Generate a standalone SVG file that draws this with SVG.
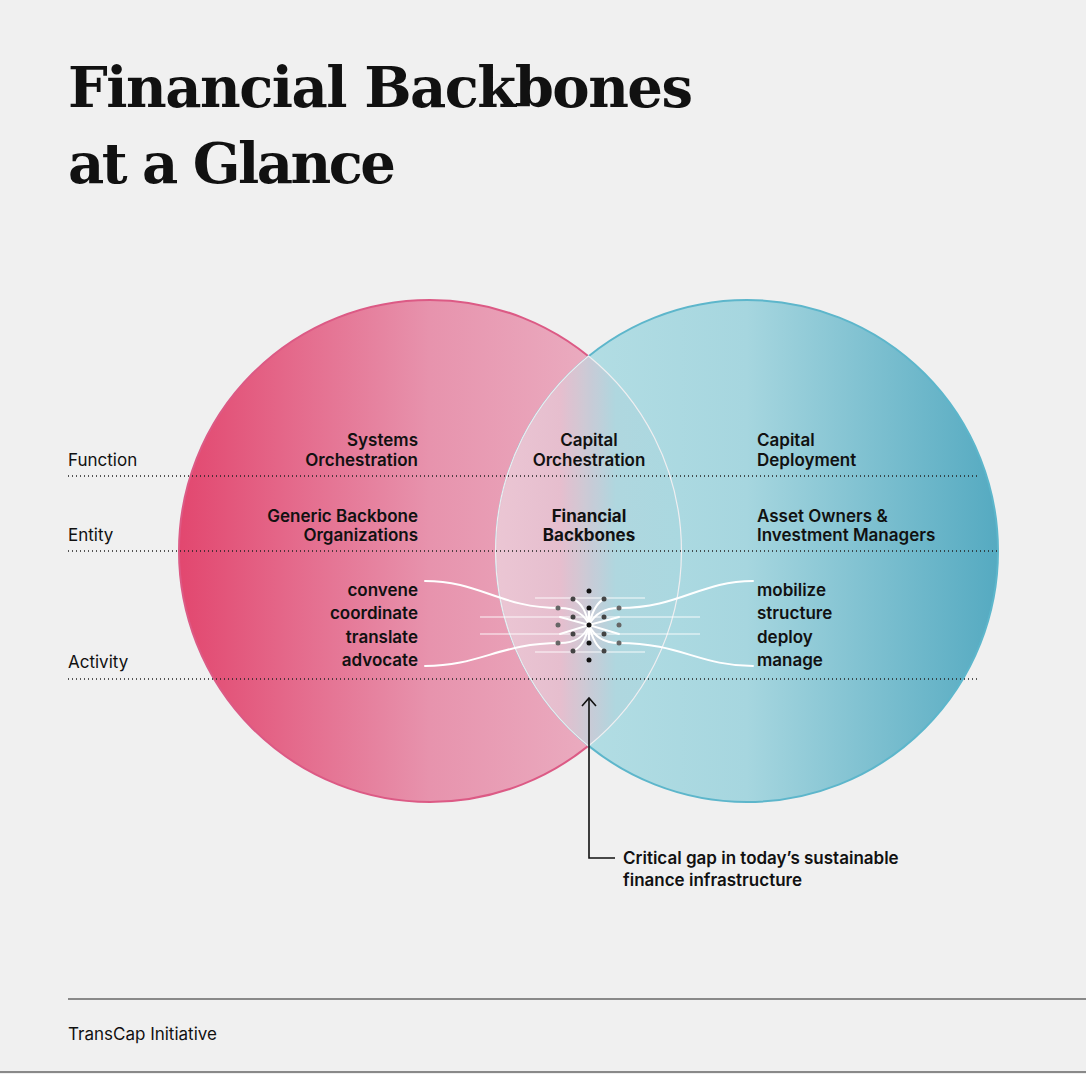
<svg xmlns="http://www.w3.org/2000/svg" width="1086" height="1074" viewBox="0 0 1086 1074">
<defs>
<linearGradient id="gl" x1="0" x2="1" y1="0" y2="0"><stop offset="0" stop-color="#e2476f"/><stop offset="0.5" stop-color="#e793ad"/><stop offset="1" stop-color="#ecb9ca"/></linearGradient>
<linearGradient id="gr" x1="0" x2="1" y1="0" y2="0"><stop offset="0" stop-color="#b9e1e6"/><stop offset="0.5" stop-color="#a6d6df"/><stop offset="1" stop-color="#55aac1"/></linearGradient>
<linearGradient id="gm" x1="0" x2="1" y1="0" y2="0"><stop offset="0" stop-color="#eec5d3"/><stop offset="0.35" stop-color="#e9bdcd"/><stop offset="0.65" stop-color="#afd7df"/><stop offset="1" stop-color="#aad8e0"/></linearGradient>
</defs>
<style>
.t{font-family:Inter,"Liberation Sans",sans-serif;font-size:17px;font-weight:600;fill:#111}
.b{font-weight:700}
.lab{font-family:Inter,"Liberation Sans",sans-serif;font-size:17px;fill:#111}
.dot{stroke:#222;stroke-width:1.3;stroke-dasharray:1 3;fill:none}
.w{fill:none;stroke:#fff;stroke-width:2;stroke-linecap:round}
.wf{fill:none;stroke:#fff;stroke-width:2;opacity:0.45}
</style>
<rect width="1086" height="1074" fill="#f0f0f0"/>
<g id="title"><text font-family="DejaVu Serif,'Liberation Serif',serif" font-weight="700" font-size="56" fill="#111"><tspan x="68" y="107" textLength="625">Financial Backbones</tspan><tspan x="68" y="183" textLength="328">at a Glance</tspan></text></g>
<g id="circle-left"><circle cx="430" cy="551" r="251" fill="url(#gl)" stroke="#dc5a85" stroke-width="2"/></g>
<g id="circle-right"><circle cx="747" cy="551" r="251" fill="url(#gr)" stroke="#5db6cb" stroke-width="2"/></g>
<g id="lens"><path d="M588.5,356 A251,251 0 0 1 588.5,746 A251,251 0 0 1 588.5,356 Z" fill="url(#gm)" stroke="#f4f0f2" stroke-width="1.2" opacity="0.95"/></g>
<g id="rows">
<line class="dot" x1="68" y1="476" x2="980" y2="476"/>
<line class="dot" x1="68" y1="551" x2="997" y2="551"/>
<line class="dot" x1="68" y1="679" x2="980" y2="679"/>
<text class="lab" x="68" y="466">Function</text>
<text class="lab" x="68" y="541">Entity</text>
<text class="lab" x="68" y="668">Activity</text>
</g>
<g id="connectors">
<path class="w" d="M425,581 C480,581 500,608 560,608 C575,608 585,615 589,625"/>
<path class="w" d="M425,666 C480,666 500,643 560,643 C575,643 585,636 589,625"/>
<path class="w" d="M753,581 C700,581 680,608 619,608 C604,608 594,615 589,625"/>
<path class="w" d="M753,666 C700,666 680,643 619,643 C604,643 594,636 589,625"/>
<path class="w" d="M560,617 L589,625 L619,617"/>
<path class="w" d="M560,634 L589,625 L619,634"/>
<path class="wf" d="M480,617 L700,617 M480,634 L700,634 M535,598 L645,598 M535,652 L645,652"/>
<path class="w" d="M573,599 C582,603 586,612 589,625 C592,612 596,603 604,599"/>
<path class="w" d="M573,651 C582,647 586,638 589,625 C592,638 596,647 604,651"/>
<path class="w" d="M589,608 L589,643"/>
<path d="M589,698 L589,858 L615,858" fill="none" stroke="#111" stroke-width="1.6"/>
<path d="M582,706 L589,698 L596,706" fill="none" stroke="#111" stroke-width="1.6"/>
</g>
<g id="dots" fill="#111">
<circle cx="589" cy="591" r="2.5"/><circle cx="589" cy="608" r="2.5"/><circle cx="589" cy="625" r="2.5"/><circle cx="589" cy="643" r="2.5"/><circle cx="589" cy="660" r="2.5"/>
<g fill="#444"><circle cx="573" cy="599" r="2.5"/><circle cx="573" cy="617" r="2.5"/><circle cx="573" cy="634" r="2.5"/><circle cx="573" cy="651" r="2.5"/>
<circle cx="604" cy="599" r="2.5"/><circle cx="604" cy="617" r="2.5"/><circle cx="604" cy="634" r="2.5"/><circle cx="604" cy="651" r="2.5"/></g>
<g fill="#666"><circle cx="558" cy="608" r="2.5"/><circle cx="558" cy="625" r="2.5"/><circle cx="558" cy="643" r="2.5"/><circle cx="619" cy="608" r="2.5"/><circle cx="619" cy="625" r="2.5"/><circle cx="619" cy="643" r="2.5"/></g>
</g>
<g id="left-text" class="t" text-anchor="end">
<text x="418" y="446">Systems</text><text x="418" y="466">Orchestration</text>
<text x="418" y="522">Generic Backbone</text><text x="418" y="541">Organizations</text>
<text x="418" y="596">convene</text><text x="418" y="619">coordinate</text><text x="418" y="643">translate</text><text x="418" y="666">advocate</text>
</g>
<g id="center-text" class="t" text-anchor="middle">
<text x="589" y="446">Capital</text><text x="589" y="466">Orchestration</text>
<text x="589" y="522" class="b">Financial</text><text x="589" y="541" class="b">Backbones</text>
</g>
<g id="right-text" class="t">
<text x="757" y="446">Capital</text><text x="757" y="466">Deployment</text>
<text x="757" y="522">Asset Owners &amp;</text><text x="757" y="541">Investment Managers</text>
<text x="757" y="596">mobilize</text><text x="757" y="619">structure</text><text x="757" y="643">deploy</text><text x="757" y="666">manage</text>
</g>
<g id="note" class="t"><text x="623" y="864">Critical gap in today’s sustainable</text><text x="623" y="886">finance infrastructure</text></g>
<g id="footer">
<line x1="68" y1="999" x2="1086" y2="999" stroke="#222" stroke-width="1"/>
<text class="lab" x="68" y="1040">TransCap Initiative</text>
<line x1="0" y1="1072" x2="1086" y2="1072" stroke="#222" stroke-width="1"/>
</g>
</svg>
